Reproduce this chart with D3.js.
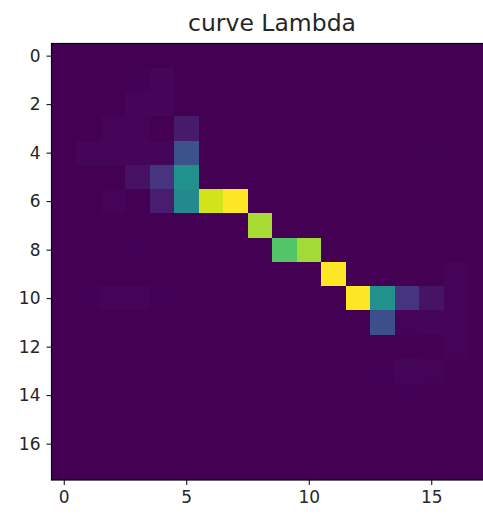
<!DOCTYPE html>
<html>
<head>
<meta charset="utf-8">
<script src="https://cdn.jsdelivr.net/npm/d3@7"></script>
<style>
  html, body { margin: 0; padding: 0; background: #fff; overflow: hidden; }
  text { font-family: "DejaVu Sans", sans-serif; fill: #262626; }
</style>
</head>
<body>
<svg id="chart" width="483" height="516"></svg>
<script>
const chartTitle = 'curve Lambda';
const xTicks = [0, 5, 10, 15];
const yTicks = [0, 2, 4, 6, 8, 10, 12, 14, 16];

// 18 x 18 grid (row = y, col = x)
const grid = [
  [0, 0, 0, 0, 0, 0, 0, 0, 0, 0, 0, 0, 0, 0, 0, 0, 0, 0],
  [0, 0, 0, 0.005, 0.012, 0, 0, 0, 0, 0, 0, 0, 0, 0, 0, 0, 0, 0],
  [0, 0, 0, 0.012, 0.015, 0, 0, 0, 0, 0, 0, 0, 0, 0, 0, 0, 0, 0],
  [0, 0, 0.01, 0.008, 0, 0.07, 0, 0, 0, 0, 0, 0, 0, 0, 0, 0, 0, 0],
  [0, 0.012, 0.012, 0.015, 0.015, 0.25, 0, 0, 0, 0, 0, 0, 0, 0, 0, 0.005, 0, 0],
  [0, 0, 0, 0.04, 0.15, 0.5, 0, 0, 0, 0, 0, 0, 0, 0, 0, 0, 0, 0],
  [0, 0, 0.01, 0, 0.08, 0.47, 0.93, 1.0, 0, 0, 0, 0, 0, 0, 0, 0, 0, 0],
  [0, 0, 0, 0, 0, 0, 0, 0, 0.87, 0, 0, 0, 0, 0, 0, 0, 0, 0],
  [0, 0, 0, 0.006, 0, 0, 0, 0, 0, 0.73, 0.86, 0, 0, 0, 0, 0, 0, 0],
  [0, 0, 0, 0, 0, 0, 0, 0, 0, 0, 0, 1.0, 0, 0, 0, 0, 0.01, 0],
  [0, 0.005, 0.008, 0.008, 0.005, 0, 0, 0, 0, 0, 0, 0, 1.0, 0.5, 0.15, 0.05, 0.01, 0],
  [0, 0, 0, 0, 0, 0, 0, 0, 0, 0, 0, 0, 0, 0.24, 0.01, 0.015, 0.01, 0],
  [0, 0, 0, 0, 0, 0, 0, 0, 0, 0, 0, 0, 0, 0, 0, 0, 0.008, 0],
  [0, 0, 0, 0, 0, 0, 0, 0, 0, 0, 0, 0, 0, 0.005, 0.015, 0.01, 0, 0],
  [0, 0, 0, 0, 0, 0, 0, 0, 0, 0, 0, 0, 0, 0, 0.005, 0, 0, 0],
  [0, 0, 0, 0, 0, 0, 0, 0, 0, 0, 0, 0, 0, 0, 0, 0, 0, 0],
  [0, 0, 0, 0, 0, 0, 0, 0, 0, 0, 0, 0, 0, 0, 0, 0, 0, 0],
  [0, 0, 0, 0, 0, 0, 0, 0, 0, 0, 0, 0, 0, 0, 0, 0, 0, 0]
];

const nRows = grid.length;
const nCols = grid[0].length;
const cellW = 24.5, cellH = 24.25;
const plotLeft = 51.5, plotTop = 43.5;

const svg = d3.select('#chart');

const x = d3.scaleLinear().domain([-0.5, nCols - 0.5]).range([plotLeft, plotLeft + nCols * cellW]);
const y = d3.scaleLinear().domain([-0.5, nRows - 0.5]).range([plotTop, plotTop + nRows * cellH]);
const maxVal = d3.max(grid, r => d3.max(r));
const color = d3.scaleSequential(d3.interpolateViridis).domain([0, maxVal]);

const cells = [];
grid.forEach((row, r) => row.forEach((v, c) => cells.push({ r, c, v })));

// base colour under the cells so no seams show
svg.append('rect')
  .attr('x', x(-0.5))
  .attr('y', y(-0.5))
  .attr('width', x(nCols - 0.5) - x(-0.5))
  .attr('height', y(nRows - 0.5) - y(-0.5))
  .attr('fill', color(0));

svg.append('g')
  .attr('shape-rendering', 'crispEdges')
  .selectAll('rect')
  .data(cells.filter(d => d.v > 0))
  .join('rect')
  .attr('x', d => x(d.c - 0.5))
  .attr('y', d => y(d.r - 0.5))
  .attr('width', x(1) - x(0))
  .attr('height', y(1) - y(0))
  .attr('fill', d => color(d.v));

// frame
svg.append('rect')
  .attr('x', x(-0.5))
  .attr('y', y(-0.5))
  .attr('width', x(nCols - 0.5) - x(-0.5))
  .attr('height', y(nRows - 0.5) - y(-0.5))
  .attr('fill', 'none')
  .attr('stroke', '#000')
  .attr('stroke-width', 1.2);

const xAxis = svg.append('g')
  .attr('transform', `translate(0,${y(nRows - 0.5)})`)
  .call(d3.axisBottom(x).tickValues(xTicks).tickSize(5).tickPadding(6));
const yAxis = svg.append('g')
  .attr('transform', `translate(${x(-0.5)},0)`)
  .call(d3.axisLeft(y).tickValues(yTicks).tickSize(5).tickPadding(6));

[xAxis, yAxis].forEach(g => {
  g.select('.domain').remove();
  g.selectAll('.tick line').attr('stroke', '#000').attr('stroke-width', 1);
  g.selectAll('.tick text')
    .style('font-family', '"DejaVu Sans", sans-serif')
    .style('font-size', '17px')
    .attr('fill', '#262626');
});

svg.append('text')
  .attr('x', x((nCols - 1) / 2))
  .attr('y', 31)
  .attr('text-anchor', 'middle')
  .style('font-size', '23.5px')
  .text(chartTitle);
</script>
</body>
</html>
